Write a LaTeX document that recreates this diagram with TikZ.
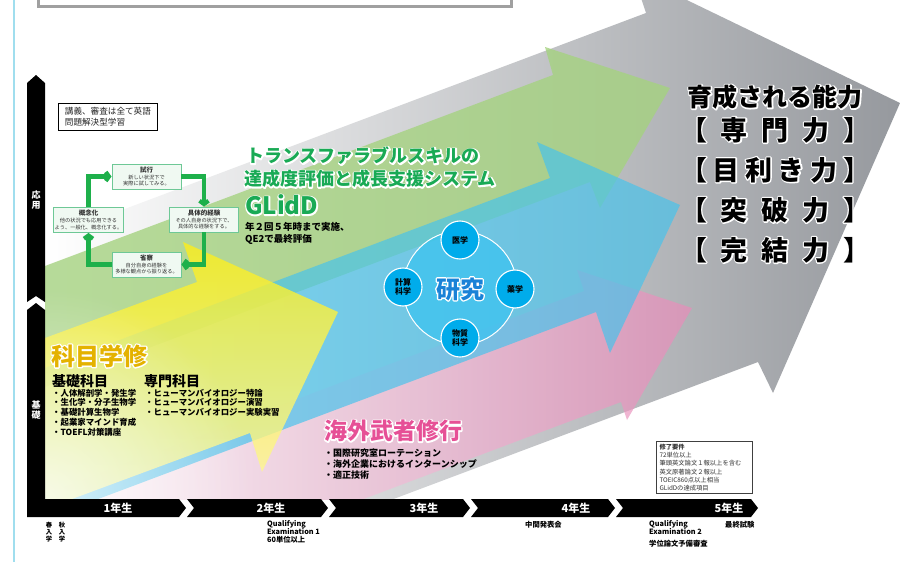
\documentclass[tikz,border=0pt]{standalone}
\usepackage{fontspec}
\setmainfont{Noto Sans CJK JP}
\usetikzlibrary{arrows.meta,fadings}

\definecolor{grayA}{RGB}{150,153,158}
\definecolor{greenA}{RGB}{165,210,128}
\definecolor{cyanA}{RGB}{70,195,236}
\definecolor{pinkA}{RGB}{232,140,185}
\definecolor{yellowA}{RGB}{252,238,25}
\definecolor{cycG}{RGB}{30,176,75}
\definecolor{cboxB}{RGB}{110,200,150}
\definecolor{cboxF}{RGB}{240,249,242}
\definecolor{titleG}{RGB}{25,170,85}
\definecolor{goldT}{RGB}{228,178,0}
\definecolor{pinkT}{RGB}{230,80,150}
\definecolor{blueT}{RGB}{25,130,215}
\definecolor{circA}{RGB}{60,195,240}
\definecolor{circB}{RGB}{0,172,235}
\definecolor{edgeL}{RGB}{160,222,238}
\definecolor{boxGray}{RGB}{160,160,160}

\tikzfading[name=fadebl, inner color=transparent!30, outer color=transparent!100]

\newcommand\fs[1]{\fontsize{#1}{#1}\selectfont}
% white stroked copy of a text, drawn under the filled text as a halo
\newcommand\halo[1]{\special{pdf:literal direct 1 Tr 1 1 1 RG 1 j 2.6 w}#1\special{pdf:literal direct 0 Tr}}
\newcommand\tseg[2]{\fill[black] (#1,499) -- (#2-7,499) -- (#2,508) -- (#2-7,517) -- (#1,517) -- (#1+7,508) -- cycle;}

\tikzset{
  every node/.style={inner sep=0pt},
  cbox/.style={draw=cboxB, line width=0.9, fill=cboxF, minimum width=69, minimum height=25,
    align=center, inner sep=1, text=black!80, font=\fontsize{5.2}{6.6}\selectfont},
  cyc/.style={draw=cycG, line width=4.2, -{Straight Barb[length=3.2pt,width=9pt]}},
  smallc/.style={circle, minimum size=38, fill=circB, draw=white, line width=1.1,
    align=center, font=\bfseries\fontsize{8}{9.5}\selectfont},
  tlab/.style={text=white, font=\bfseries\fs{11}},
  blab/.style={anchor=north west, align=left, font=\bfseries\fontsize{7.3}{8.3}\selectfont},
  item/.style={anchor=west, font=\bfseries\fs{8.4}},
  gtitle/.style={anchor=west, text=titleG, font=\bfseries\fs{18}},
  ability/.style={text=black, font=\bfseries\fs{27}},
}

\begin{document}
\begin{tikzpicture}[x=1pt,y=-1pt]
\useasboundingbox (0,0) rectangle (913,562);
\clip (0,0) rectangle (913,562);
\fill[white] (0,0) rectangle (913,562);

% big arrows
\begin{scope}
\clip (45,-40) rectangle (913,499);
\shade[left color=white, right color=grayA]
  (45,239) -- (646,13) -- (633,-26) -- (900,103) -- (773,393) -- (758,362) -- (45,630) -- cycle;
\fill[greenA, fill opacity=0.8]
  (45,266) -- (553,75) -- (545,47) -- (670,88) -- (600,208) -- (590,182) -- (45,387) -- cycle;
\shade[left color=pinkA!10!white, right color=pinkA, fill opacity=0.7]
  (45,494) -- (584,291) -- (577,270) -- (692,308) -- (627,420) -- (621,402) -- (45,619) -- cycle;
\fill[cyanA, fill opacity=0.68]
  (45,368) -- (550,178) -- (537,142) -- (680,205) -- (610,353) -- (596,312) -- (45,519) -- cycle;
\shade[top color=yellowA, middle color=yellowA!92!white, bottom color=yellowA!40!white, fill opacity=0.8]
  (45,338) -- (197,282) -- (183,242) -- (338,312) -- (262,472) -- (250,433) -- (45,509) -- cycle;
\fill[white, path fading=fadebl] (45,499) circle[radius=210];
\end{scope}

% left light line and top box
\draw[edgeL, line width=1.5] (14,0) -- (14,562);
\draw[boxGray, line width=3] (38,-10) rectangle (511,6);

% axis bars
\fill[black] (27,83) -- (36,75) -- (45,83) -- (45,302) -- (36,296) -- (27,302) -- cycle;
\fill[black] (27,310) -- (36,303) -- (45,310) -- (45,499) -- (179,499) -- (186,508) -- (179,517) -- (27,517) -- cycle;
\node[align=center, text=white, font=\bfseries\fontsize{9}{10}\selectfont] (ouyou) at (36,200) {応\\用};
\node[align=center, text=white, font=\bfseries\fontsize{9}{10}\selectfont] (kiso) at (36,410) {基\\礎};

% timeline
\tseg{187}{328}
\tseg{329}{470}
\tseg{471}{615}
\tseg{616}{758}
\node[tlab] (y1) at (118,508) {1年生};
\node[tlab] (y2) at (271,508) {2年生};
\node[tlab] (y3) at (424,508) {3年生};
\node[tlab] (y4) at (576,508) {4年生};
\node[tlab] (y5) at (729,508) {5年生};

\node[align=center, font=\bfseries\fontsize{6.3}{6.8}\selectfont] (haru) at (49,532) {春\\入\\学};
\node[align=center, font=\bfseries\fontsize{6.3}{6.8}\selectfont] (aki) at (62,532) {秋\\入\\学};
\node[blab] (qe1) at (267,520) {Qualifying\\Examination 1\\60単位以上};
\node[blab] (chukan) at (525,521) {中間発表会};
\node[blab] (qe2) at (649,520) {Qualifying\\Examination 2};
\node[blab] (yobi) at (649,540) {学位論文予備審査};
\node[blab] (saishu) at (725,521) {最終試験};

% top-left note box
\node[draw=black, line width=0.8, fill=white, minimum width=99, minimum height=27, anchor=north west,
  align=left, inner sep=3, font=\fontsize{8.6}{11}\selectfont, text=black!85] (note) at (58,103)
  {講義、審査は全て英語\\問題解決型学習};

% cycle
\node[cbox] (c1) at (146.5,176.5) {{\bfseries\fs{6.5}試行}\\新しい状況下で\\実際に試してみる。};
\node[cbox] (c2) at (204,219.5) {{\bfseries\fs{6.5}具体的経験}\\その人自身の状況下で、\\具体的な経験をする。};
\node[cbox] (c3) at (146.5,264.5) {{\bfseries\fs{6.5}省察}\\自分自身の経験を\\多様な観点から振り返る。};
\node[cbox] (c4) at (88.5,220) {{\bfseries\fs{6.5}概念化}\\他の状況でも応用できる\\よう、一般化、概念化する。};
\draw[cyc] (c4.north) |- (c1.west);
\draw[cyc] (c1.east) -| (c2.north);
\draw[cyc] (c2.south) |- (c3.east);
\draw[cyc] (c3.west) -| (c4.south);

% GLidD title
\node[gtitle] (gh1) at (246,156) {\halo{トランスファラブルスキルの}};
\node[gtitle] (gt1) at (246,156) {トランスファラブルスキルの};
\node[gtitle] (gh2) at (244,179) {\halo{達成度評価と成長支援システム}};
\node[gtitle] (gt2) at (244,179) {達成度評価と成長支援システム};
\node[gtitle, font=\bfseries\fs{24}] (gh3) at (245,205) {\halo{GLidD}};
\node[gtitle, font=\bfseries\fs{24}] (gt3) at (245,205) {GLidD};
\node[anchor=west, font=\bfseries\fs{9.5}] (gt4) at (245,227) {年２回５年時まで実施、};
\node[anchor=west, font=\bfseries\fs{9.5}] (gt5) at (245,239) {QE2で最終評価};

% research
\node[circle, minimum size=114, fill=circA, fill opacity=0.75, draw=white, line width=1] (rc) at (460,288) {};
\node[text=blueT, font=\bfseries\fs{24}] (rh) at (460,289) {\halo{研究}};
\node[text=blueT, font=\bfseries\fs{24}] (rt) at (460,289) {研究};
\node[smallc] (s1) at (460,240) {医学};
\node[smallc] (s2) at (515,289) {薬学};
\node[smallc] (s3) at (403,287) {計算\\科学};
\node[smallc] (s4) at (460,338) {物質\\科学};

% right abilities
\node[text=black, font=\bfseries\fs{25}] (ah0) at (775,97) {\halo{育成される能力}};
\node[text=black, font=\bfseries\fs{25}] (ab0) at (775,97) {育成される能力};
\node[ability] (ah1) at (775,130) {\halo{\makebox[190pt][s]{【\hfill 専\hfill 門\hfill 力\hfill 】}}};
\node[ability] (ab1) at (775,130) {\makebox[190pt][s]{【\hfill 専\hfill 門\hfill 力\hfill 】}};
\node[ability] (ah2) at (775,170) {\halo{\makebox[190pt][s]{【\hfill 目\hfill 利\hfill き\hfill 力\hfill 】}}};
\node[ability] (ab2) at (775,170) {\makebox[190pt][s]{【\hfill 目\hfill 利\hfill き\hfill 力\hfill 】}};
\node[ability] (ah3) at (775,210) {\halo{\makebox[190pt][s]{【\hfill 突\hfill 破\hfill 力\hfill 】}}};
\node[ability] (ab3) at (775,210) {\makebox[190pt][s]{【\hfill 突\hfill 破\hfill 力\hfill 】}};
\node[ability] (ah4) at (775,250) {\halo{\makebox[190pt][s]{【\hfill 完\hfill 結\hfill 力\hfill 】}}};
\node[ability] (ab4) at (775,250) {\makebox[190pt][s]{【\hfill 完\hfill 結\hfill 力\hfill 】}};

% courses
\node[anchor=west, text=goldT, font=\bfseries\fs{24}] (kh) at (51,356) {\halo{科目学修}};
\node[anchor=west, text=goldT, font=\bfseries\fs{24}] (km) at (51,356) {科目学修};
\node[anchor=west, font=\bfseries\fs{14}] (kk) at (52,381) {基礎科目};
\node[anchor=west, font=\bfseries\fs{14}] (sk) at (144,381) {専門科目};
\node[item] (i1) at (52,393) {・人体解剖学・発生学};
\node[item] (i2) at (52,402.5) {・生化学・分子生物学};
\node[item] (i3) at (52,412) {・基礎計算生物学};
\node[item] (i4) at (52,422) {・起業家マインド育成};
\node[item] (i5) at (52,432) {・TOEFL対策講座};
\node[item] (j1) at (145,393) {・ヒューマンバイオロジー特論};
\node[item] (j2) at (145,402.5) {・ヒューマンバイオロジー演習};
\node[item] (j3) at (145,412) {・ヒューマンバイオロジー実験実習};

% overseas
\node[anchor=west, text=pinkT, font=\bfseries\fs{23}] (mh) at (324,431) {\halo{海外武者修行}};
\node[anchor=west, text=pinkT, font=\bfseries\fs{23}] (ms) at (324,431) {海外武者修行};
\node[item, font=\bfseries\fs{9}] (p1) at (324,453) {・国際研究室ローテーション};
\node[item, font=\bfseries\fs{9}] (p2) at (324,464) {・海外企業におけるインターンシップ};
\node[item, font=\bfseries\fs{9}] (p3) at (324,475) {・適正技術};

% completion requirements
\node[draw=black!75, line width=1, fill=white, minimum width=96, minimum height=52, anchor=north west,
  align=left, inner sep=0, text width=90, text=black!80, font=\fontsize{6.3}{8.2}\selectfont] (req) at (656,441)
  {{\bfseries 修了要件}\\72単位以上\\筆頭英文論文１報以上を含む\\英文原著論文２報以上\\TOEIC860点以上相当\\GLidDの達成項目};
\end{tikzpicture}
\end{document}
